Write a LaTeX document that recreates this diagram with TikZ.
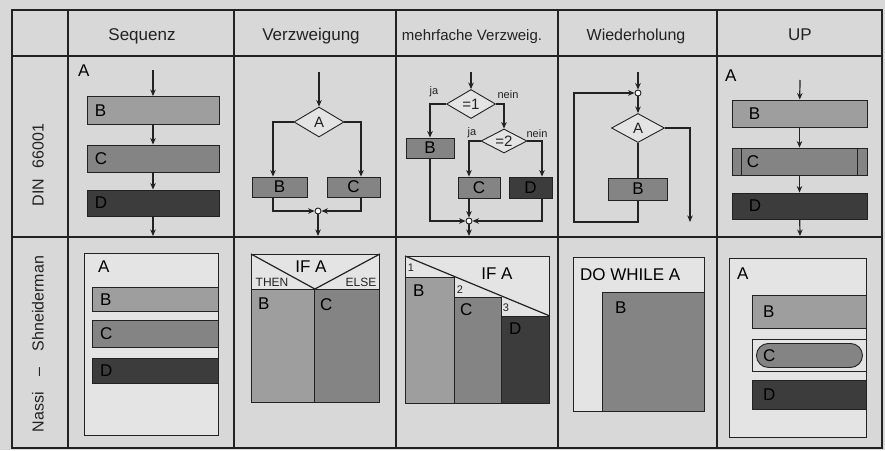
\documentclass[tikz,border=0pt]{standalone}
\usepackage{fontspec}
\setmainfont{Liberation Sans}
\usetikzlibrary{positioning,shapes.geometric,arrows.meta}
\definecolor{paper}{RGB}{216,216,216}
\definecolor{nspaper}{RGB}{228,228,228}
\definecolor{ink}{RGB}{34,34,34}
\definecolor{shadeB}{RGB}{158,158,158}
\definecolor{shadeC}{RGB}{132,132,132}
\definecolor{shadeD}{RGB}{60,60,60}
\tikzset{
  gridline/.style={draw=ink, line width=1.2pt},
  hdr/.style={font=\fontsize{17}{19}\selectfont, text=ink, anchor=base, inner sep=0pt},
  rowlbl/.style={font=\fontsize{16}{18}\selectfont, text=ink, rotate=90, inner sep=0pt},
  boxlbl/.style={font=\fontsize{17}{19}\selectfont, text=black, inner sep=0pt},
  smalllbl/.style={font=\fontsize{11}{12}\selectfont, text=ink, inner sep=0pt},
  flowbox/.style={draw=ink, line width=0.9pt, inner sep=0pt,
                  font=\fontsize{17}{19}\selectfont, text=black},
  flowdec/.style={diamond, draw=ink, line width=0.9pt, fill=nspaper, inner sep=0pt,
                  aspect=1.7, font=\fontsize{15}{17}\selectfont, text=ink},
  flowarr/.style={->, >={Stealth[length=6.5pt,width=5.5pt]}, draw=ink, line width=1.2pt},
  flowline/.style={draw=ink, line width=1.2pt},
  joint/.style={circle, draw=ink, fill=white, line width=0.9pt, inner sep=0pt, minimum size=6pt},
  nsbox/.style={draw=ink, line width=0.9pt, inner sep=0pt, anchor=north west},
  lblw/.style 2 args={label={[boxlbl,anchor=west,xshift=#1pt]west:#2}},
  lblnw/.style n args={3}{label={[boxlbl,anchor=north west,xshift=#1pt,yshift=-#2pt]north west:#3}},
}

\begin{document}
\begin{tikzpicture}[x=1pt, y=-1pt]
  \useasboundingbox (0,0) rectangle (885,450);
  \fill[paper] (0,0) rectangle (885,450);

  \draw[gridline] (12,10) rectangle (882,448);
  \draw[gridline] (12,56) -- (882,56);
  \draw[gridline] (12,237) -- (882,237);
  \foreach \x in {68,234,396,558,717}
    \draw[gridline] (\x,10) -- (\x,448);

  \node[hdr] (hSeq) at (142,40.5) {Sequenz};
  \node[hdr] (hVz) at (311,40.5) {Verzweigung};
  \node[hdr, font=\fontsize{15}{17}\selectfont] (hMf) at (472,40.5) {mehrfache Verzweig.};
  \node[hdr, font=\fontsize{16}{18}\selectfont] (hWh) at (636,40.5) {Wiederholung};
  \node[hdr] (hUp) at (800,40.5) {UP};

  \node[rowlbl] (lblDin) at (38,165) {DIN\hspace{10pt}66001};
  \node[rowlbl] (lblNs) at (38,344) {Nassi\quad--\quad Shneiderman};

  \node[boxlbl, anchor=north west] (sqA) at (78,65) {A};
  \coordinate (sqIn) at (153,70);
  \node[flowbox, fill=shadeB, minimum width=132pt, minimum height=28pt, lblw={8}{B}] (sqB) at (153,110.5) {};
  \node[flowbox, fill=shadeC, minimum width=132pt, minimum height=27pt, lblw={8}{C}] (sqC) at (153,158.5) {};
  \node[flowbox, fill=shadeD, minimum width=132pt, minimum height=26pt, lblw={8}{D}] (sqD) at (153,203) {};
  \coordinate (sqOut) at (153,236);
  \draw[flowarr] (sqIn) -- (sqB);
  \draw[flowarr] (sqB) -- (sqC);
  \draw[flowarr] (sqC) -- (sqD);
  \draw[flowarr] (sqD) -- (sqOut);

  \coordinate (vzIn) at (319,72);
  \node[flowdec, minimum width=50pt, minimum height=30pt] (vzA) at (319,122) {A};
  \node[flowbox, fill=shadeC, minimum width=55pt, minimum height=20pt] (vzB) at (279.5,187) {B};
  \node[flowbox, fill=shadeC, minimum width=53pt, minimum height=20pt] (vzC) at (353.5,187) {C};
  \node[joint] (vzJ) at (318,211) {};
  \coordinate (vzOut) at (318,236);
  \draw[flowarr] (vzIn) -- (vzA);
  \draw[flowarr] (vzA.west) -| ([xshift=-6.5pt]vzB.north);
  \draw[flowarr] (vzA.east) -| ([xshift=7.5pt]vzC.north);
  \draw[flowarr] ([xshift=-6.5pt]vzB.south) |- (vzJ.west);
  \draw[flowarr] ([xshift=7.5pt]vzC.south) |- (vzJ.east);
  \draw[flowarr] (vzJ) -- (vzOut);

  \coordinate (mfIn) at (471,72);
  \node[flowdec, minimum width=49pt, minimum height=29pt] (mf1) at (471,104) {=1};
  \node[flowdec, minimum width=46pt, minimum height=24pt] (mf2) at (504,141) {=2};
  \node[flowbox, fill=shadeC, minimum width=48pt, minimum height=20pt] (mfB) at (430,148) {B};
  \node[flowbox, fill=shadeC, minimum width=42pt, minimum height=21pt] (mfC) at (479,187.5) {C};
  \node[flowbox, fill=shadeD, minimum width=43pt, minimum height=21pt] (mfD) at (530.5,187.5) {D};
  \node[joint] (mfJ) at (469,221) {};
  \coordinate (mfOut) at (469,236);
  \node[smalllbl] (mfJa1) at (434,92) {ja};
  \node[smalllbl] (mfNein1) at (508,95) {nein};
  \node[smalllbl] (mfJa2) at (472,133) {ja};
  \node[smalllbl] (mfNein2) at (537,134) {nein};
  \draw[flowarr] (mfIn) -- (mf1);
  \draw[flowarr] (mf1.west) -| (mfB.north);
  \draw[flowarr] (mf1.east) -| (mf2.north);
  \draw[flowarr] (mf2.west) -| ([xshift=-10pt]mfC.north);
  \draw[flowarr] (mf2.east) -| ([xshift=11.5pt]mfD.north);
  \draw[flowarr] ([xshift=-10pt]mfC.south) -- (mfJ);
  \draw[flowarr] (mfB.south) |- (mfJ.west);
  \draw[flowarr] ([xshift=11.5pt]mfD.south) |- (mfJ.east);
  \draw[flowarr] (mfJ) -- (mfOut);

  \coordinate (whIn) at (638,72);
  \node[joint] (whJ) at (638,93) {};
  \node[flowdec, minimum width=53pt, minimum height=29pt] (whA) at (638,128) {A};
  \node[flowbox, fill=shadeC, minimum width=59pt, minimum height=22pt] (whB) at (638,189) {B};
  \coordinate (whLoop) at (574,222);
  \coordinate (whOut) at (690,222);
  \draw[flowarr] (whIn) -- (whJ);
  \draw[flowarr] (whJ) -- (whA);
  \draw[flowline] (whA) -- (whB);
  \draw[flowarr] (whB.south) |- (whLoop) |- (whJ.west);
  \draw[flowarr] (whA.east) -| (whOut);

  \node[boxlbl, anchor=north west] (upA) at (725,70) {A};
  \coordinate (upIn) at (800,80);
  \node[flowbox, fill=shadeB, minimum width=135pt, minimum height=27pt, lblw={17}{B}] (upB) at (799.5,113.5) {};
  \node[flowbox, fill=shadeC, minimum width=135pt, minimum height=27pt, lblw={15}{C}] (upC) at (799.5,161.5) {};
  \node[flowbox, fill=shadeD, minimum width=135pt, minimum height=26pt, lblw={17}{D}] (upD) at (799.5,206) {};
  \coordinate (upOut) at (800,236);
  \draw[flowline] ([xshift=10pt]upC.north west) -- ([xshift=10pt]upC.south west);
  \draw[flowline] ([xshift=-10pt]upC.north east) -- ([xshift=-10pt]upC.south east);
  \draw[flowarr] (upIn) -- (upB);
  \draw[flowarr] (upB) -- (upC);
  \draw[flowarr] (upC) -- (upD);
  \draw[flowarr] (upD) -- (upOut);

  \node[nsbox, fill=nspaper, minimum width=134pt, minimum height=182pt] (nsSeq) at (84,253) {};
  \node[boxlbl, anchor=north west] (nsSeqA) at (98,261) {A};
  \node[nsbox, fill=shadeB, minimum width=126pt, minimum height=24pt, lblw={8}{B}] (nsSeqB) at (92,287) {};
  \node[nsbox, fill=shadeC, minimum width=126pt, minimum height=27pt, lblw={8}{C}] (nsSeqC) at (92,320) {};
  \node[nsbox, fill=shadeD, minimum width=126pt, minimum height=25pt, lblw={8}{D}] (nsSeqD) at (92,358) {};

  \node[nsbox, fill=nspaper, minimum width=128pt, minimum height=35pt] (nsIf) at (251,254) {};
  \node[nsbox, fill=shadeB, minimum width=63pt, minimum height=113pt, lblnw={7}{9}{B}] (nsIfB) at (251,289) {};
  \node[nsbox, fill=shadeC, minimum width=65pt, minimum height=113pt, lblnw={6}{9}{C}] (nsIfC) at (314,289) {};
  \draw[flowline] (nsIf.north west) -- (nsIfB.north east) -- (nsIf.north east);
  \node[boxlbl] (nsIfTxt) at (311,267) {IF A};
  \node[smalllbl, font=\fontsize{12}{13}\selectfont] (nsThen) at (272,282) {THEN};
  \node[smalllbl, font=\fontsize{12}{13}\selectfont] (nsElse) at (361,282) {ELSE};

  \node[nsbox, fill=nspaper, minimum width=144pt, minimum height=147pt] (nsCase) at (405,256) {};
  \node[nsbox, fill=shadeB, minimum width=49pt, minimum height=126pt, lblnw={8}{8}{B}] (nsCaseB) at (405,277) {};
  \node[nsbox, fill=shadeC, minimum width=47pt, minimum height=106pt, lblnw={6}{6}{C}] (nsCaseC) at (454,297) {};
  \node[nsbox, fill=shadeD, minimum width=48pt, minimum height=87pt, lblnw={8}{7}{D}] (nsCaseD) at (501,316) {};
  \draw[flowline] (nsCase.north west) -- (nsCaseD.north east);
  \node[boxlbl] (nsCaseTxt) at (497,274) {IF A};
  \node[smalllbl] (nsCase1) at (411,268) {1};
  \node[smalllbl] (nsCase2) at (460,290) {2};
  \node[smalllbl] (nsCase3) at (506,308) {3};

  \node[nsbox, fill=nspaper, minimum width=131pt, minimum height=154pt] (nsLoop) at (573,257) {};
  \node[nsbox, fill=shadeC, minimum width=102pt, minimum height=119pt, lblnw={13}{10}{B}] (nsLoopB) at (602,292) {};
  \node[boxlbl, anchor=west, font=\fontsize{17}{19}\selectfont] (nsLoopTxt) at (580,275) {DO WHILE A};

  \node[nsbox, fill=nspaper, minimum width=137pt, minimum height=179pt] (nsUp) at (729,258) {};
  \node[boxlbl, anchor=north west] (nsUpA) at (737,268) {A};
  \node[nsbox, fill=shadeB, minimum width=114pt, minimum height=33pt, lblw={11}{B}] (nsUpB) at (752,295) {};
  \node[nsbox, fill=nspaper, minimum width=114pt, minimum height=32pt] (nsUpC) at (752,339) {};
  \node[draw=ink, line width=0.9pt, fill=shadeC, rounded corners=12pt, inner sep=0pt,
        minimum width=106pt, minimum height=24pt, lblw={7}{C}] (nsUpCin) at (nsUpC.center) {};
  \node[nsbox, fill=shadeD, minimum width=114pt, minimum height=29pt, lblw={11}{D}] (nsUpD) at (752,380) {};

\end{tikzpicture}
\end{document}
